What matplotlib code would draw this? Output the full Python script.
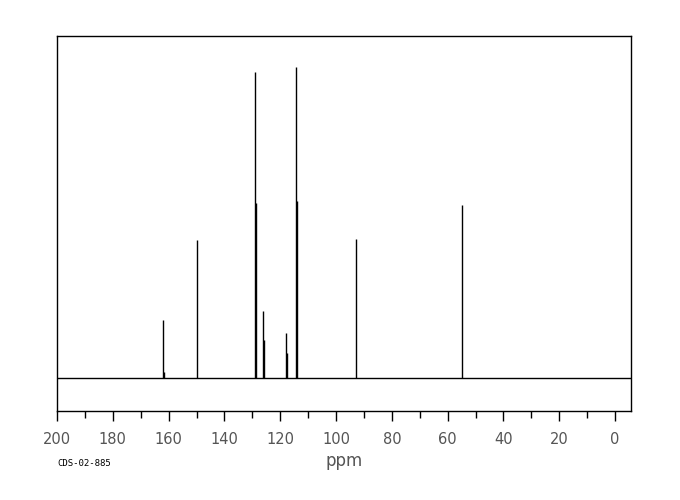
import matplotlib
matplotlib.use("Agg")
import matplotlib.pyplot as plt

# Peak positions (ppm) and relative intensities
ppm = [162.0, 161.8, 149.8, 129.03, 128.67, 126.16, 125.81, 117.92, 117.56, 114.34, 113.98, 92.8, 54.8]
intensity = [58, 6, 138, 306, 175, 67, 38, 45, 25, 311, 177, 139, 173]

xticks_major = [200, 180, 160, 140, 120, 100, 80, 60, 40, 20, 0]
xticks_minor = [190, 170, 150, 130, 110, 90, 70, 50, 30, 10]

fig = plt.figure(figsize=(6.8, 5.0), dpi=100)
ax = fig.add_axes([57/680, 1-411/500, (631-57)/680, (411-36)/500])

ax.axhline(0, color="black", lw=1.0)
ax.vlines(ppm, 0, intensity, color="black", lw=1.0)

ax.set_xlim(200, -5.7)
ax.set_ylim(-33, 342)
ax.set_yticks([])
ax.set_xticks(xticks_major)
ax.set_xticks(xticks_minor, minor=True)
ax.set_xticklabels([str(t) for t in xticks_major], fontsize=10.5, color="#555555")
ax.tick_params(axis="x", which="major", direction="out", length=7, width=1, pad=8)
ax.tick_params(axis="x", which="minor", direction="out", length=5, width=1)
for s in ax.spines.values():
    s.set_linewidth(1.0)
    s.set_color("black")

ax.set_xlabel("ppm", fontsize=12, color="#555555", labelpad=4)
fig.text(57/680, 1-466/500, "CDS-02-885", fontsize=6.5, family="DejaVu Sans Mono", color="black")

fig.savefig("out.png", dpi=100)
